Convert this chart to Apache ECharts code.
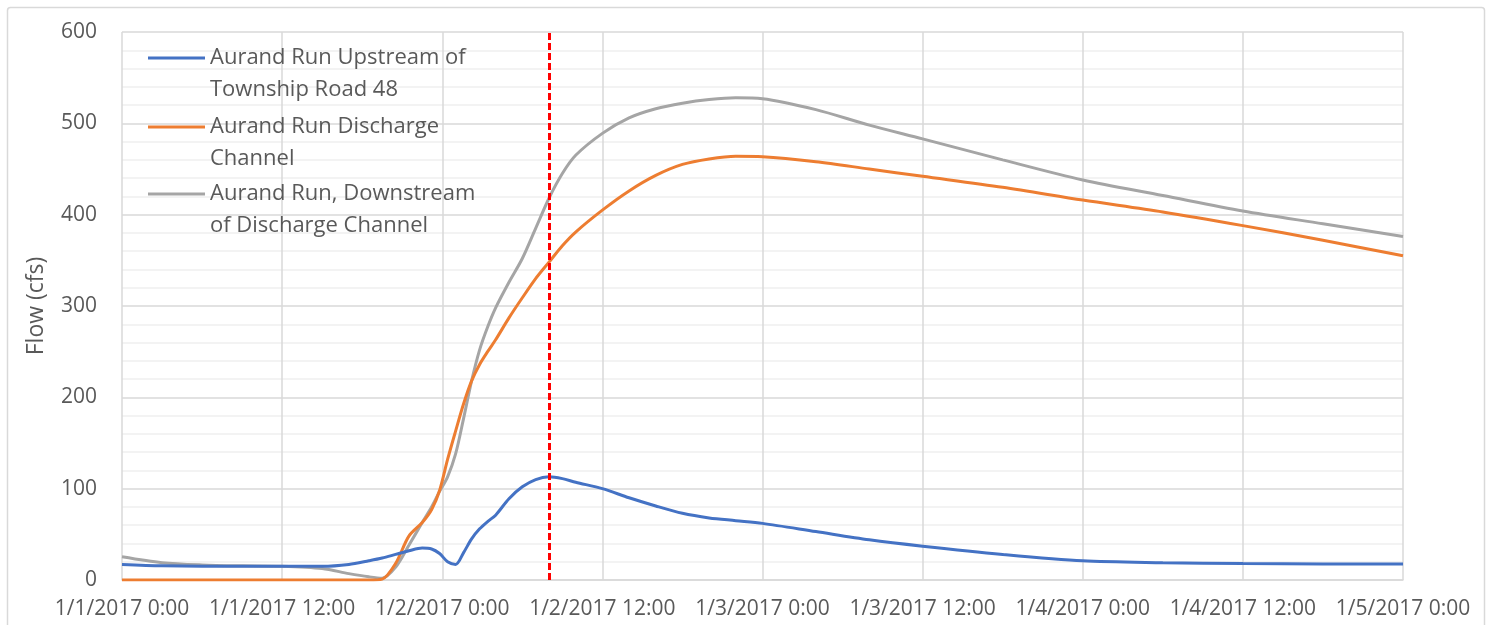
<!DOCTYPE html>
<html><head><meta charset="utf-8">
<script src="https://cdn.jsdelivr.net/npm/echarts@6/dist/echarts.min.js"></script>
<style>html,body{margin:0;padding:0;background:#fff}#c{width:1492px;height:625px}</style>
</head><body><div id="c"></div>
<script>
// hours since 1/1/2017 0:00
const hours = [0, 3, 6, 9, 12, 15, 17, 18.5, 19.5, 20.5, 21.5, 22.5, 23.2, 23.8, 24.4, 25, 25.6, 26.2, 26.8, 27.4, 28, 29, 30, 31, 32, 33, 34, 36, 38, 40, 42, 44, 46, 48, 52, 56, 60, 66, 72, 78, 84, 90, 96];
const upstream = [17, 15.5, 15, 15, 15, 15, 17, 21, 24, 28, 32, 35, 34, 29, 20, 17, 30, 45, 56, 64, 71, 89, 102, 110, 113, 111, 107, 100, 90, 81, 73, 68, 65, 62, 53, 44, 37, 28, 21, 19, 18, 17.5, 17.5];
const dischargeChannel = [0, 0, 0, 0, 0, 0, 0, 0, 1, 18, 48, 63, 77, 98, 132, 163, 193, 218, 236, 250, 263, 287, 309, 330, 348, 366, 381, 405, 426, 443, 455, 461, 464, 463.5, 458, 450, 442, 430, 416, 403, 388, 372, 355];
const downstream = [25.5, 19, 16.5, 15.5, 15, 12.5, 7, 3.5, 2, 14, 38, 63, 80, 97, 113, 138, 177, 218, 252, 277, 298, 326, 352, 385, 418, 445, 465, 489, 506, 516, 522, 526, 528, 527, 515, 498, 483, 460, 438, 421, 404, 390, 376];
const xTickLabels = ['1/1/2017 0:00', '1/1/2017 12:00', '1/2/2017 0:00', '1/2/2017 12:00', '1/3/2017 0:00', '1/3/2017 12:00', '1/4/2017 0:00', '1/4/2017 12:00', '1/5/2017 0:00'];
const seriesNames = ['Aurand Run Upstream of Township Road 48', 'Aurand Run Discharge Channel', 'Aurand Run, Downstream of Discharge Channel'];
const legendLabels = ['Aurand Run Upstream of\nTownship Road 48', 'Aurand Run Discharge\nChannel', 'Aurand Run, Downstream\nof Discharge Channel'];
const markerHour = 32;

const colors = ['#4472C4', '#ED7D31', '#A5A5A5'];
const font = 'Open Sans';
const chart = echarts.init(document.getElementById('c'), null, {renderer: 'canvas'});
const pairs = arr => hours.map((h, i) => [h, arr[i]]);
const legendTops = [10, 79, 146];

const option = {
  animation: false,
  color: colors,
  textStyle: {fontFamily: font},
  graphic: [{type: 'rect', shape: {x: 7.5, y: 7.5, width: 1477, height: 700, r: 3}, style: {fill: null, stroke: '#d9d9d9', lineWidth: 1.5}, silent: true}],
  grid: {left: 122, right: 89, top: 32, bottom: 45, containLabel: false},
  legend: seriesNames.map((n, i) => ({
    data: [n], left: 148, top: legendTops[i], orient: 'vertical', padding: 0,
    selectedMode: false, icon: 'rect', itemWidth: 57, itemHeight: 3,
    formatter: () => '\n' + legendLabels[i],
    textStyle: {fontFamily: font, fontSize: 22, color: '#595959', lineHeight: 32}
  })),
  xAxis: {
    type: 'value', min: 0, max: 96, interval: 12,
    axisLine: {show: true, lineStyle: {color: '#d9d9d9', width: 1.5}},
    axisTick: {show: false},
    splitLine: {show: true, lineStyle: {color: '#d9d9d9', width: 1.5}},
    axisLabel: {formatter: v => xTickLabels[Math.round(v / 12)], color: '#595959', fontSize: 21, fontFamily: font, margin: 19, showMaxLabel: true, showMinLabel: true}
  },
  yAxis: {
    type: 'value', min: 0, max: 600, interval: 100,
    name: 'Flow (cfs)', nameLocation: 'middle', nameGap: 74, nameRotate: 90,
    nameTextStyle: {color: '#595959', fontSize: 23, fontFamily: font},
    axisLine: {show: false}, axisTick: {show: false},
    axisLabel: {color: '#595959', fontSize: 21, fontFamily: font, margin: 25},
    splitLine: {show: true, lineStyle: {color: '#d9d9d9', width: 1.5}},
    minorTick: {show: false, splitNumber: 5},
    minorSplitLine: {show: true, lineStyle: {color: '#efefef', width: 1.5}}
  },
  series: [
    {name: seriesNames[0], type: 'line', data: pairs(upstream), smooth: 0.3, showSymbol: false, lineStyle: {width: 3, color: colors[0]}, z: 4},
    {name: seriesNames[1], type: 'line', data: pairs(dischargeChannel), smooth: 0.3, showSymbol: false, lineStyle: {width: 3, color: colors[1]}, z: 3,
      markLine: {silent: true, symbol: ['none', 'none'], label: {show: false}, lineStyle: {color: '#FF0000', type: [7, 3], width: 3}, data: [{xAxis: markerHour}]}},
    {name: seriesNames[2], type: 'line', data: pairs(downstream), smooth: 0.3, showSymbol: false, lineStyle: {width: 3, color: colors[2]}, z: 2}
  ]
};
chart.setOption(option);
</script>
</body></html>
